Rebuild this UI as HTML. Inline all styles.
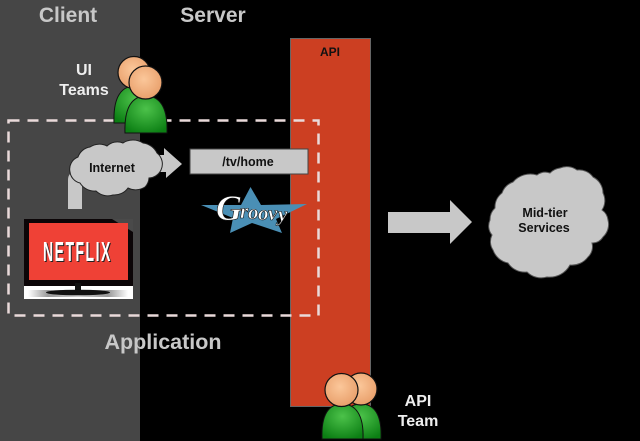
<!DOCTYPE html>
<html><head><meta charset="utf-8"><style>
html,body{margin:0;padding:0;background:#000;width:640px;height:441px;overflow:hidden}
svg{display:block}
text{font-family:"Liberation Sans",sans-serif;font-weight:bold}
</style></head><body>
<svg width="640" height="441" viewBox="0 0 640 441" xmlns="http://www.w3.org/2000/svg">
<defs>
<radialGradient id="sk" cx="45%" cy="40%" r="60%"><stop offset="0" stop-color="#fbc79a"/><stop offset="1" stop-color="#e9a06c"/></radialGradient>
<radialGradient id="gr" cx="50%" cy="35%" r="70%"><stop offset="0" stop-color="#4cc24a"/><stop offset="1" stop-color="#0c7f14"/></radialGradient>
<linearGradient id="sh" x1="0" y1="0" x2="1" y2="0"><stop offset="0" stop-color="#fff"/><stop offset=".2" stop-color="#999"/><stop offset=".5" stop-color="#ccc"/><stop offset=".8" stop-color="#999"/><stop offset="1" stop-color="#fff"/></linearGradient>
</defs>
<rect width="640" height="441" fill="#000"/>
<rect width="140" height="441" fill="#464646"/>
<text x="68" y="22" font-size="21" fill="#c8c8c8" text-anchor="middle">Client</text>
<text x="213" y="22" font-size="21" fill="#c8c8c8" text-anchor="middle">Server</text>
<rect x="290.500" y="38.500" width="80" height="368" fill="#cc3f22" stroke="#666" stroke-width="1"/>
<text x="330" y="56" font-size="12" fill="#111" text-anchor="middle">API</text>

<!-- pipe + arrow behind Internet cloud -->
<path d="M68 209V180Q68 172 76 172H90V186H82V209Z" fill="#c8c8c8"/>
<path d="M150 155H164V148L182 164L166 178V172H150Z" fill="#c8c8c8"/>

<!-- Internet cloud -->
<path d="M70 172A13 13 0 0 1 78 157A15 15 0 0 1 90 147A17 17 0 0 1 107 146A15 15 0 0 1 123 143A18 18 0 0 1 143 143A18 18 0 0 1 157 153A14 14 0 0 1 161 170A14 14 0 0 1 149 178A14 14 0 0 1 145 187A17 17 0 0 1 128 188A17 17 0 0 1 113 195A17 17 0 0 1 96 191A17 17 0 0 1 80 183A13 13 0 0 1 70 172Z" fill="#c8c8c8" stroke="#222" stroke-width="1"/>
<text x="112" y="172" font-size="12.500" fill="#111" text-anchor="middle">Internet</text>

<!-- TV -->
<rect x="24" y="219" width="109" height="80" fill="#fff"/>
<rect x="24" y="219" width="109" height="67" fill="#0b0507"/>
<path d="M112 219H133V232Z" fill="#4a4a4a"/>
<rect x="29" y="223" width="99" height="57" fill="#ef4136"/>
<text transform="translate(44,262) scale(.5,1)" font-size="28" fill="#222" letter-spacing="3">NETFLIX</text>
<text transform="translate(43,261) scale(.5,1)" font-size="28" fill="#fff" letter-spacing="3">NETFLIX</text>
<rect x="28" y="290" width="100" height="7" fill="url(#sh)"/>
<rect x="75" y="283" width="6" height="9" fill="#111"/>
<ellipse cx="78" cy="292.500" rx="32" ry="2.800" fill="#111"/>

<!-- /tv/home box -->
<rect x="190" y="149" width="118" height="25" fill="#c8c8c8" stroke="#444" stroke-width="1"/>
<text x="248" y="166" font-size="12.500" fill="#111" text-anchor="middle">/tv/home</text>

<!-- Groovy star -->
<path d="M250.500 187L261 205L307 204L276 219L282 233L252 223L230 233L233 218L201 205L241 205Z" fill="#4a8fb5"/>
<text fill="#fff" stroke="#111" stroke-width=".6" font-size="21" style="font-family:'Liberation Serif',serif;font-style:italic;font-weight:bold"><tspan x="216" y="220" font-size="36">G</tspan><tspan x="240" y="218">r</tspan><tspan x="248" y="219">o</tspan><tspan x="258" y="220">o</tspan><tspan x="268" y="220">v</tspan><tspan x="278" y="221">y</tspan></text>

<!-- Dashed app box -->
<rect x="8.500" y="120.500" width="310" height="195" fill="none" stroke="#eadada" stroke-width="2.500" stroke-dasharray="11 8"/>
<text x="163" y="349" font-size="21.500" fill="#c8c8c8" text-anchor="middle">Application</text>

<!-- UI Teams -->
<text x="84" y="75" font-size="16" fill="#eee" text-anchor="middle">UI</text>
<text x="84" y="95" font-size="16" fill="#eee" text-anchor="middle">Teams</text>
<path d="M114 123C113 96 122 86 135 86C148 86 157 96 156 123Z" fill="url(#gr)" stroke="#111"/>
<circle cx="134" cy="72.500" r="16" fill="url(#sk)" stroke="#111" stroke-width="1.200"/>
<path d="M125 133C124 106 133 96 146 96C159 96 168 106 167 133Z" fill="url(#gr)" stroke="#111"/>
<circle cx="145.500" cy="82.500" r="16.500" fill="url(#sk)" stroke="#111" stroke-width="1.200"/>

<!-- API Team -->
<path d="M340 439C339 414 348 404 361 404C374 404 382 414 381 439Z" fill="url(#gr)" stroke="#111"/>
<circle cx="361" cy="389" r="16" fill="url(#sk)" stroke="#111" stroke-width="1.200"/>
<path d="M322 439C321 414 329 404 342 404C355 404 364 414 363 439Z" fill="url(#gr)" stroke="#111"/>
<circle cx="341.500" cy="390" r="16.500" fill="url(#sk)" stroke="#111" stroke-width="1.200"/>
<text x="418" y="406" font-size="16" fill="#eee" text-anchor="middle">API</text>
<text x="418" y="426" font-size="16" fill="#eee" text-anchor="middle">Team</text>

<!-- Big arrow -->
<path d="M388 212H450V200L472 222L450 244V233H388Z" fill="#c8c8c8"/>

<!-- Mid-tier cloud -->
<path d="M490 220A16 16 0 0 1 495 208A18 18 0 0 1 502 193A18 18 0 0 1 513 182A23 23 0 0 1 537 175A14 14 0 0 1 550 173A17 17 0 0 1 560 168A17 17 0 0 1 577 170A17 17 0 0 1 593 177A18 18 0 0 1 603 193A17 17 0 0 1 602 210A14 14 0 0 1 608 220A17 17 0 0 1 603 237A12 12 0 0 1 592 243A14 14 0 0 1 588 257A20 20 0 0 1 570 265A23 23 0 0 1 547 277A20 20 0 0 1 527 272A20 20 0 0 1 508 263A20 20 0 0 1 493 250A15 15 0 0 1 492 235A14 14 0 0 1 490 220Z" fill="#c8c8c8" stroke="#555" stroke-width="1"/>
<text x="545" y="217" font-size="12.500" fill="#111" text-anchor="middle">Mid-tier</text>
<text x="544" y="232" font-size="12.500" fill="#111" text-anchor="middle">Services</text>
</svg>
</body></html>
